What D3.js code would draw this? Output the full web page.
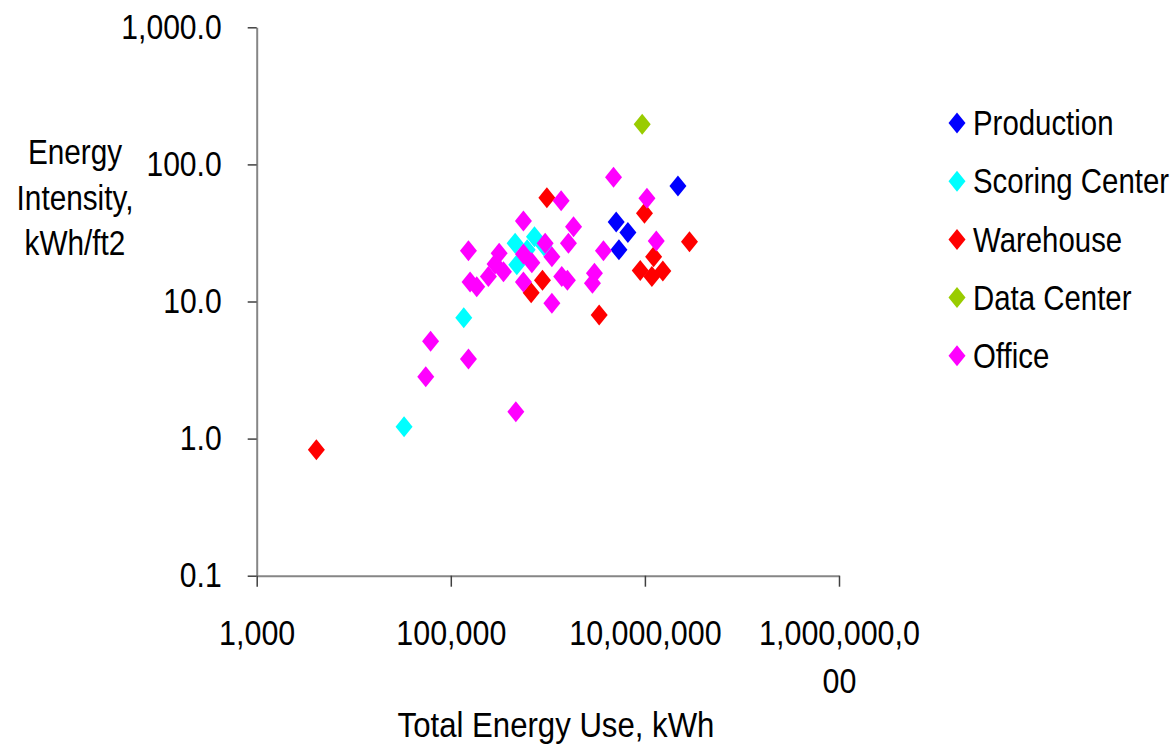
<!DOCTYPE html>
<html>
<head>
<meta charset="utf-8">
<script src="https://cdn.jsdelivr.net/npm/d3@7"></script>
<style>
  body { margin: 0; background: #fff; }
  svg text { font-family: "Liberation Sans", Arial, sans-serif; fill: #000; }
</style>
</head>
<body>
<svg id="chart" width="1173" height="747"></svg>
<script>
// series, drawn in this order (Office ends up on top)
const categories = ["Production", "Scoring Center", "Warehouse", "Data Center", "Office"];
const colors = ["#0000FF", "#00FFFF", "#FF0000", "#99CC00", "#FF00FF"];

const productionKWh = [5.06e6, 6.68e6, 5.40e6, 2.19e7];
const productionIntensity = [38.0, 31.8, 23.8, 69.6];

const scoringKWh = [3.30e4, 1.36e5, 4.60e5, 7.28e5, 4.79e5, 6.12e5, 9.1e5];
const scoringIntensity = [1.22, 7.62, 26.6, 29.7, 18.5, 23.8, 25.5];

const warehouseKWh = [4.12e3, 9.77e5, 9.9e6, 2.88e7, 1.23e7, 8.95e6, 1.18e7, 1.53e7, 8.80e5, 6.73e5, 3.38e6];
const warehouseIntensity = [0.83, 57.2, 44.0, 27.3, 21.2, 16.8, 15.2, 16.7, 14.3, 11.6, 7.97];

const dataCenterKWh = [9.38e6];
const dataCenterIntensity = [196];

const officeKWh = [4.75e6, 1.37e6, 1.05e7, 5.60e5, 1.84e6, 1.63e6, 1.31e7, 1.52e5, 3.74e6, 3.15e5,
  9.38e5, 5.60e5, 1.10e6, 6.84e5, 2.86e5, 3.49e5, 2.44e5, 1.58e5, 1.85e5, 3.02e6,
  2.88e6, 1.39e6, 1.59e6, 5.60e5, 1.10e6, 6.19e4, 1.52e5, 5.52e4, 4.68e5];
const officeIntensity = [80.5, 54.3, 56.6, 38.6, 35.1, 26.6, 27.6, 23.5, 23.5, 22.5,
  26.6, 22.2, 21.2, 19.2, 18.8, 16.5, 15.2, 13.9, 12.8, 16.1,
  13.6, 15.2, 14.3, 13.9, 9.70, 5.13, 3.81, 2.83, 1.57];

const xTicks = [1e3, 1e5, 1e7, 1e9];
const xTickLabels = [["1,000"], ["100,000"], ["10,000,000"], ["1,000,000,0", "00"]];
const yTicks = [0.1, 1, 10, 100, 1000];
const yTickLabels = ["0.1", "1.0", "10.0", "100.0", "1,000.0"];

const series = [
  [productionKWh, productionIntensity],
  [scoringKWh, scoringIntensity],
  [warehouseKWh, warehouseIntensity],
  [dataCenterKWh, dataCenterIntensity],
  [officeKWh, officeIntensity]
].map(([xs, ys], i) => ({
  name: categories[i],
  color: colors[i],
  points: xs.map((v, j) => ({ x: v, y: ys[j] }))
}));

const svg = d3.select("#chart");
const fontSize = 35;

// the original font is a narrow one: squeeze a text around its anchor point
function narrow(sel, k, ax, ay) {
  sel.attr("transform", `translate(${ax},${ay}) scale(${k},1) translate(${-ax},${-ay})`);
}

const x = d3.scaleLog().domain([1e3, 1e9]).range([256.7, 839]);
const y = d3.scaleLog().domain([0.1, 1000]).range([575.7, 27.3]);

const diamond = "M0,-10.5L8.5,0L0,10.5L-8.5,0Z";

// y axis
const yAxis = svg.append("g")
  .attr("transform", `translate(${x.range()[0]},0)`)
  .call(d3.axisLeft(y)
    .tickValues(yTicks)
    .tickFormat((d, i) => yTickLabels[i])
    .tickSizeInner(9)
    .tickSizeOuter(0)
    .tickPadding(26));

// x axis
const xAxis = svg.append("g")
  .attr("transform", `translate(0,${y.range()[0]})`)
  .call(d3.axisBottom(x)
    .tickValues(xTicks)
    .tickFormat("")
    .tickSizeInner(11)
    .tickSizeOuter(0));

[yAxis, xAxis].forEach(a => {
  a.select(".domain").attr("stroke", "#868686").attr("stroke-width", 2);
  a.selectAll(".tick line").attr("stroke", "#404040").attr("stroke-width", 1.5);
  a.selectAll(".tick text").attr("font-size", fontSize).attr("font-family", null).attr("fill", "#000");
});
yAxis.selectAll(".tick text").call(narrow, 0.86, -35, 0);

// x tick labels (the last one wraps like in the original)
xAxis.selectAll(".tick").each(function(d, i) {
  const t = d3.select(this).append("text")
    .attr("text-anchor", "middle")
    .attr("font-size", fontSize)
    .attr("y", 44);
  xTickLabels[i].forEach((line, k) => {
    t.append("tspan").attr("x", 0).attr("dy", k === 0 ? "0.71em" : 48).text(line);
  });
  t.call(narrow, 0.87, 0, 0);
});

// axis titles
svg.append("text")
  .attr("x", 556).attr("y", 725)
  .attr("dy", "0.35em")
  .attr("text-anchor", "middle")
  .attr("font-size", fontSize)
  .text("Total Energy Use, kWh")
  .call(narrow, 0.89, 556, 725);

const yTitle = svg.append("text")
  .attr("text-anchor", "middle")
  .attr("font-size", fontSize);
["Energy", "Intensity,", "kWh/ft2"].forEach((line, k) => {
  yTitle.append("tspan")
    .attr("x", 75)
    .attr("y", 152 + k * 45.5)
    .attr("dy", "0.35em")
    .text(line);
});
yTitle.call(narrow, 0.85, 75, 0);

// points
series.forEach(s => {
  svg.append("g")
    .selectAll("path")
    .data(s.points)
    .enter().append("path")
      .attr("d", diamond)
      .attr("transform", d => `translate(${x(d.x)},${y(d.y)})`)
      .attr("fill", s.color);
});

// legend
const legend = svg.append("g").attr("transform", "translate(957,123)");
series.forEach((s, i) => {
  const row = legend.append("g").attr("transform", `translate(0,${i * 58.2})`);
  row.append("path").attr("d", diamond).attr("fill", s.color);
  row.append("text")
    .attr("x", 16)
    .attr("dy", "0.35em")
    .attr("font-size", fontSize)
    .text(s.name)
    .call(narrow, 0.84, 16, 0);
});
</script>
</body>
</html>
